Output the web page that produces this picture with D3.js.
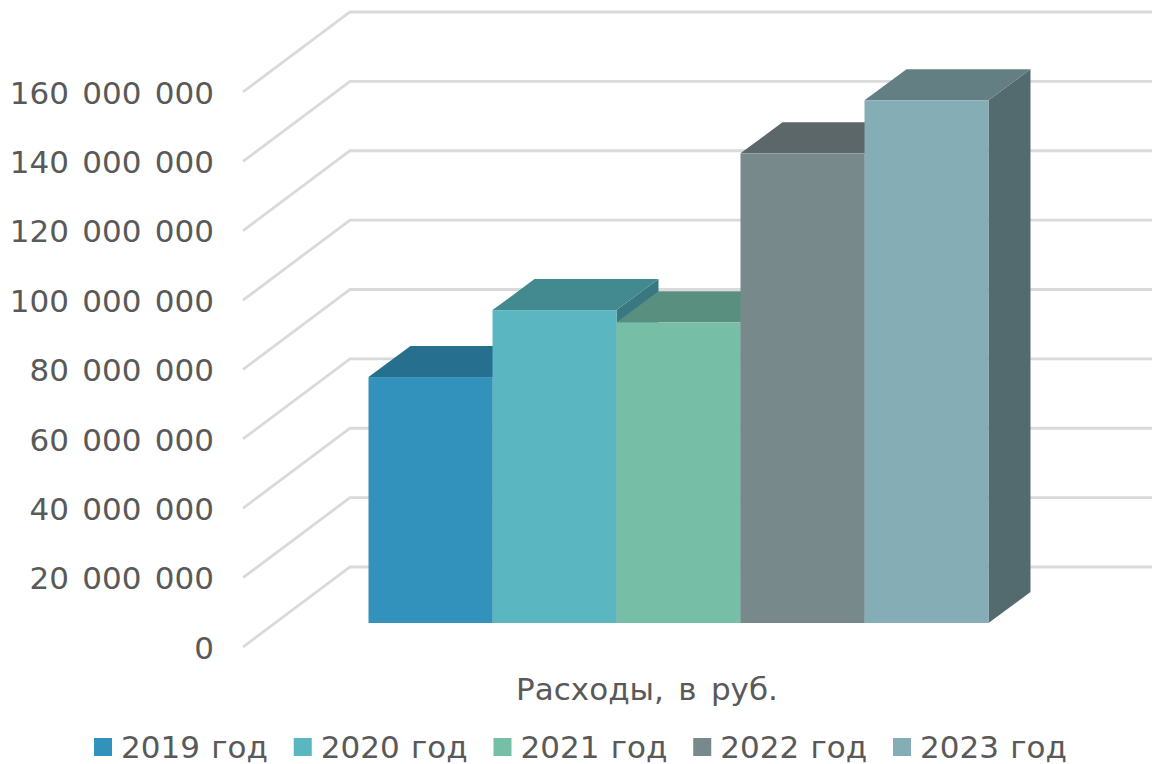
<!DOCTYPE html>
<html><head><meta charset="utf-8">
<script src="https://cdn.jsdelivr.net/npm/d3@7/dist/d3.min.js"></script>
<style>
html,body{margin:0;padding:0;background:#fff}
svg{display:block}
text{font-family:Verdana,"DejaVu Sans",sans-serif;fill:#595959}
</style></head><body>
<svg id="c" width="1152" height="764"></svg>
<script>
const categories = ["2019 год","2020 год","2021 год","2022 год","2023 год"];
const values = [70900000,90200000,86700000,135400000,150700000];
const tickValues = [0,20000000,40000000,60000000,80000000,100000000,120000000,140000000,160000000];
const axisTitle = "Расходы, в руб.";
const frontColors = ["#3292BB","#5AB7C1","#76BEA6","#78898B","#84ADB6"];
const topColors = ["#266F8E","#438A90","#598F7E","#5B6769","#647F84"];
const sideColors = ["#1F5F7A","#397880","#4C7A6B","#4E585A","#536A6E"];

const svg = d3.select("#c");
const maxV = 160000000;
// front edge of the floor, back wall, and bar front plane
const yFront = d3.scaleLinear().domain([0,maxV]).range([647,92]);
const yBack  = d3.scaleLinear().domain([0,maxV]).range([567,12]);
const yBar   = d3.scaleLinear().domain([0,maxV]).range([623,68]);
const x = d3.scaleBand().domain(categories).range([368.5,988.5]).padding(0);
const barDX = 42, barDY = 31;

const grid = svg.append("g").attr("fill","none").attr("stroke","#dadada").attr("stroke-width",2.8);
grid.selectAll("path").data(tickValues).join("path")
  .attr("d",v=>`M243,${yFront(v)}L350,${yBack(v)}L1152,${yBack(v)}`);

const axis = d3.axisLeft(yFront).tickValues(tickValues).tickSize(0).tickPadding(0)
  .tickFormat(v=>d3.format(",")(v).replace(/,/g," "));
const ag = svg.append("g").attr("transform","translate(214,0)").call(axis);
ag.select(".domain").remove();
ag.selectAll("text").attr("font-size",31).attr("fill","#595959").attr("dy","0.36em")
  .attr("word-spacing",3.5)
  .style("font-family",'Verdana,"DejaVu Sans",sans-serif');

const bars = svg.append("g");
categories.forEach((c,i)=>{
  const x0=x(c), x1=x0+x.bandwidth(), yt=yBar(values[i]), yb=yBar(0);
  const g=bars.append("g");
  g.append("path").attr("fill",sideColors[i])
    .attr("d",`M${x1},${yt}L${x1+barDX},${yt-barDY}L${x1+barDX},${yb-barDY}L${x1},${yb}Z`);
  g.append("path").attr("fill",topColors[i])
    .attr("d",`M${x0},${yt}L${x0+barDX},${yt-barDY}L${x1+barDX},${yt-barDY}L${x1},${yt}Z`);
  g.append("rect").attr("fill",frontColors[i])
    .attr("x",x0).attr("y",yt).attr("width",x.bandwidth()).attr("height",yb-yt);
});

svg.append("text").attr("x",647).attr("y",700).attr("text-anchor","middle").attr("font-size",31)
  .attr("word-spacing",4.5).text(axisTitle);

const lx = d3.scalePoint().domain(categories).range([94,893]);
const lg = svg.append("g").selectAll("g").data(categories).join("g")
  .attr("transform",c=>`translate(${lx(c)},0)`);
lg.append("rect").attr("y",738).attr("width",18).attr("height",18).attr("fill",(c,i)=>frontColors[i]);
lg.append("text").attr("x",27).attr("y",758).attr("font-size",31).attr("word-spacing",1.5).text(c=>c);
</script>
</body></html>
